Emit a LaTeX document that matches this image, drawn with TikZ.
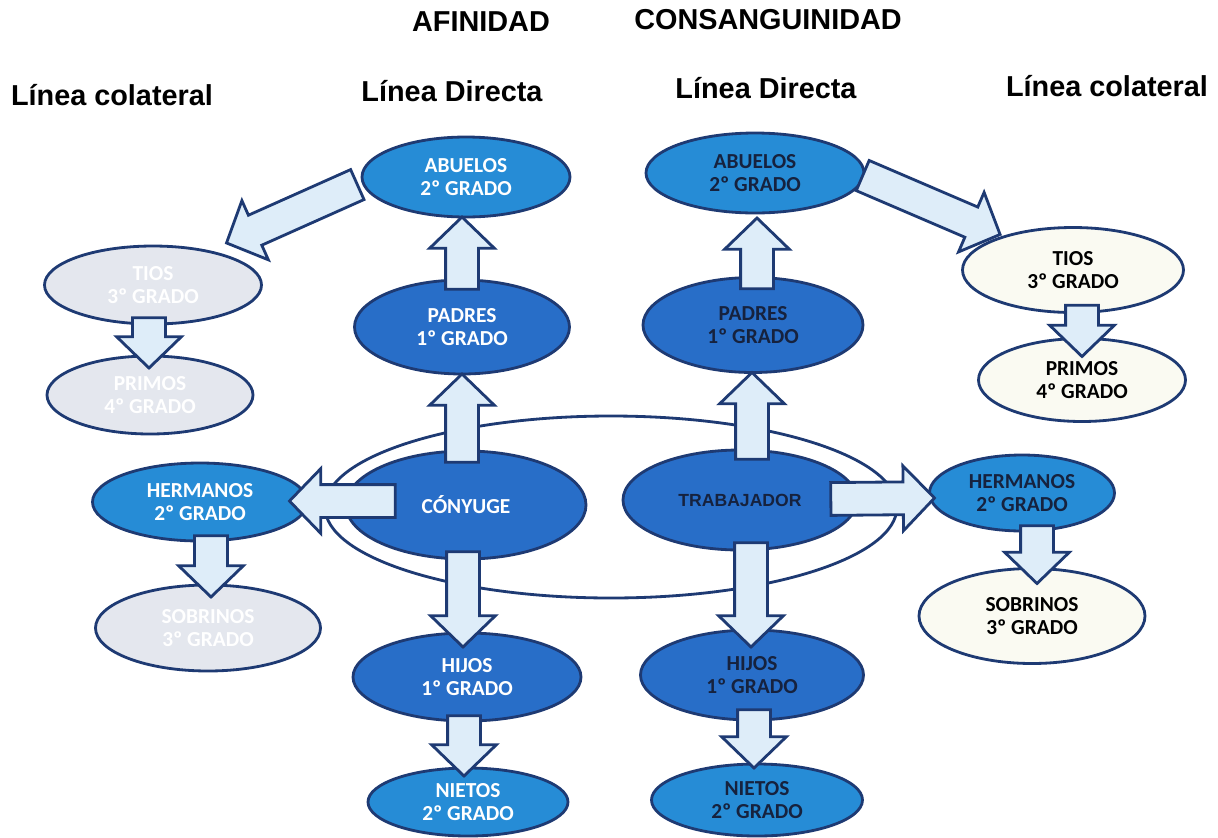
\documentclass[tikz,border=0pt]{standalone}
\usepackage{fontspec}
\setmainfont{Carlito}
\newfontfamily\arial{Liberation Sans}
\usetikzlibrary{shapes.geometric,shapes.arrows,calc}
\definecolor{marino}{RGB}{30,58,115}
\definecolor{azulclaro}{RGB}{38,140,214}
\definecolor{azuloscuro}{RGB}{40,110,200}
\definecolor{gris}{RGB}{228,231,238}
\definecolor{crema}{RGB}{250,250,242}
\definecolor{fondoflecha}{RGB}{222,237,249}
\definecolor{tinta}{RGB}{22,34,62}
\newcommand{\px}{0.025cm}
\tikzset{
 grado/.style={ellipse, draw=marino, line width=2pt, inner sep=0pt, align=center,
   font=\bfseries\fontsize{15.2}{16}\selectfont},
 claro/.style={fill=azulclaro, text=white},
 oscuro/.style={fill=azuloscuro, text=white},
 claroR/.style={fill=azulclaro, text=tinta},
 oscuroR/.style={fill=azuloscuro, text=tinta},
 apagado/.style={fill=gris, text=white},
 palido/.style={fill=crema, text=black},
 bloque/.style={single arrow, draw=marino, fill=fondoflecha, line width=2pt,
   inner xsep=0pt, inner ysep=0.375cm, minimum width=1.55cm,
   single arrow head extend=0.4cm, single arrow tip angle=92},
 titulo/.style={font=\arial\bfseries\fontsize{20.5}{24}\selectfont}
}
% name, position, width, height, style, text
\newcommand{\grado}[6]{%
 \node[grado, #5, minimum width=#3*\px, minimum height=#4*\px] ({#1}) at ({#2}) {#6};%
}
% from, to
\newcommand{\flecha}[2]{%
 \path let \p1=#1, \p2=#2, \n1={atan2(\y2-\y1,\x2-\x1)}, \n2={veclen(\x2-\x1,\y2-\y1)} in
  node[bloque, anchor=tail, rotate=\n1, minimum height=\n2] at (\p1) {};%
}

\begin{document}
\begin{tikzpicture}[x=0.025cm, y=-0.025cm]
 \useasboundingbox (0,0) rectangle (1218,837);
 % titles
 \node[titulo] (afin) at (481,22) {AFINIDAD};
 \node[titulo] (cons) at (768,20) {CONSANGUINIDAD};
 \node[titulo] (colL) at (112,95) {Línea colateral};
 \node[titulo] (dirL) at (452,91) {Línea Directa};
 \node[titulo] (dirR) at (766,88) {Línea Directa};
 \node[titulo] (colR) at (1107,86) {Línea colateral};
 % ring round the couple
 \node[ellipse, draw=marino, line width=2pt, fill=white, minimum width=572*\px, minimum height=182*\px] (anillo) at (611,507) {};
 % afinidad
 \grado{abuL}{466,177}{208}{80}{claro}{ABUELOS\\2º GRADO}
 \grado{padL}{462,327}{215}{94}{oscuro}{PADRES\\1º GRADO}
 \grado{conL}{466,505}{240}{108}{oscuro}{CÓNYUGE}
 \grado{hijL}{467,677}{228}{88}{oscuro}{HIJOS\\1º GRADO}
 \grado{nieL}{468,802}{200}{68}{claro}{NIETOS\\2º GRADO}
 \grado{herL}{200,502}{215}{78}{claro}{HERMANOS\\2º GRADO}
 \grado{sobL}{208,628}{225}{86}{apagado}{SOBRINOS\\3º GRADO}
 \grado{tioL}{153,285}{217}{78}{apagado}{TIOS\\3º GRADO}
 \grado{priL}{150,395}{206}{78}{apagado}{PRIMOS\\4º GRADO}
 % consanguinidad
 \grado{abuR}{755,173}{218}{80}{claroR}{ABUELOS\\2º GRADO}
 \grado{padR}{753,325}{220}{95}{oscuroR}{PADRES\\1º GRADO}
 \node[grado, oscuroR, minimum width=234*\px, minimum height=100*\px, font=\arial\bfseries\fontsize{12.5}{14}\selectfont] (traR) at (740,500) {TRABAJADOR};
 \grado{hijR}{752,675}{223}{90}{oscuroR}{HIJOS\\1º GRADO}
 \grado{nieR}{757,800}{211}{72}{claroR}{NIETOS\\2º GRADO}
 \grado{tioR}{1073,270}{221}{85}{palido}{TIOS\\3º GRADO}
 \grado{priR}{1082,380}{207}{83}{palido}{PRIMOS\\4º GRADO}
 \grado{herR}{1022,493}{185}{76}{claroR}{HERMANOS\\2º GRADO}
 \grado{sobR}{1032,616}{226}{95}{palido}{SOBRINOS\\3º GRADO}
 % arrows
 \flecha{($(padL.north)+(0,12)$)}{(padL.north |- abuL.south)}
 \flecha{($(padL.south |- conL.north)+(0,14)$)}{(padL.south)}
 \flecha{($(conL.south)+(-3,-10)$)}{($(conL.south |- hijL.north)+(-3,14)$)}
 \flecha{($(hijL.south)+(-3,-8)$)}{($(hijL.south |- nieL.north)+(-3,8)$)}
 \flecha{($(conL.west)+(52,-4)$)}{($(herL.east)+(-18,-1)$)}
 \flecha{($(herL.south)+(11,-8)$)}{($(herL.south |- sobL.north)+(11,12)$)}
 \flecha{($(abuL.west)+(-2,7)$)}{($(tioL.north east)+(-3,-14)$)}
 \flecha{($(tioL.south)+(-4,-9)$)}{($(tioL.south |- priL.north)+(-4,12)$)}
 \flecha{($(padR.north)+(4,14)$)}{($(padR.north |- abuR.south)+(4,5)$)}
 \flecha{($(traR.north)+(12,12)$)}{($(traR.north |- padR.south)+(12,0)$)}
 \flecha{($(traR.south)+(11,-10)$)}{($(traR.south |- hijR.north)+(11,17)$)}
 \flecha{($(hijR.south)+(2,-13)$)}{($(hijR.south |- nieR.north)+(2,4)$)}
 \flecha{($(traR.east)+(-29,-1)$)}{($(herR.west)+(5,5)$)}
 \flecha{($(herR.south)+(15,-8)$)}{($(herR.south |- sobR.north)+(15,15)$)}
 \flecha{($(abuR.east)+(-4,2)$)}{($(tioR.north west)+(5,-5)$)}
 \flecha{($(tioR.south)+(9,-10)$)}{($(tioR.south |- priR.north)+(9,18)$)}
\end{tikzpicture}
\end{document}
